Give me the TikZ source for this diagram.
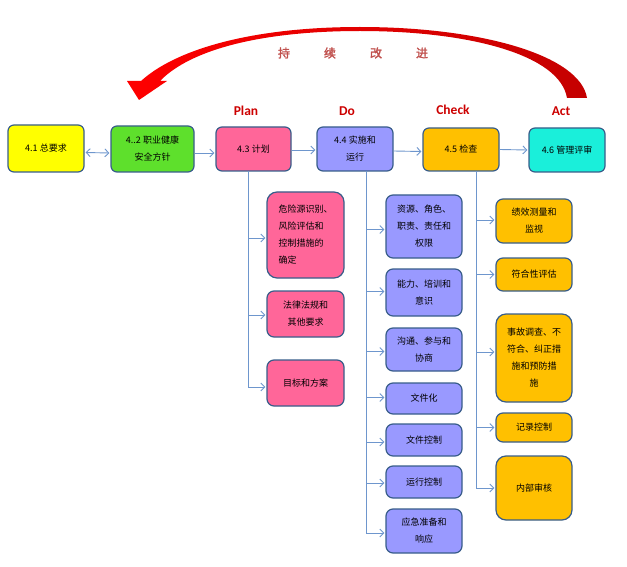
\documentclass[tikz,border=0pt]{standalone}
\usepackage{fontspec}
\setmainfont{Noto Sans CJK SC}
\newfontfamily\labfont{Carlito}
\newfontfamily\cjkbold[FakeBold=2]{Noto Sans CJK SC}
\usetikzlibrary{arrows.meta}
\definecolor{bordercol}{RGB}{56,93,138}
\definecolor{arrcol}{RGB}{110,150,205}
\definecolor{cyellow}{RGB}{255,255,0}
\definecolor{cgreen}{RGB}{94,224,44}
\definecolor{cpink}{RGB}{255,102,153}
\definecolor{cviolet}{RGB}{153,153,255}
\definecolor{corange}{RGB}{255,192,0}
\definecolor{ccyan}{RGB}{26,239,218}
\definecolor{labred}{RGB}{204,0,0}
\definecolor{kaizen}{RGB}{192,80,77}
\definecolor{darkred}{RGB}{196,0,0}
\tikzset{
  box/.style={draw=bordercol, line width=1.2pt, rounded corners=7pt, inner sep=0pt,
    align=center, font=\fontsize{9}{17}\selectfont},
  topbox/.style={box, rounded corners=6pt},
  bigbox/.style={box, rounded corners=10pt},
  conn/.style={draw=arrcol, line width=0.9pt},
  connarr/.style={conn, -{Straight Barb[length=4pt,width=8pt,line width=0.9pt]}},
  bothArr/.style={conn, {Straight Barb[length=4pt,width=8pt,line width=0.9pt]}-{Straight Barb[length=4pt,width=8pt,line width=0.9pt]}},
  pdca/.style={text=labred, font=\labfont\bfseries\fontsize{13.5}{15}\selectfont},
  kz/.style={text=kaizen, font=\cjkbold\fontsize{12}{14}\selectfont}
}
\begin{document}
\begin{tikzpicture}[x=1pt,y=-1pt]
\useasboundingbox (0,0) rectangle (627,567);

% big red arrow
\shade[left color=red, middle color=red, right color=darkred]
  (587,98) .. controls (580,55) and (480,27) .. (360,27)
  .. controls (250,27) and (175,50) .. (141,81)
  -- (127,81) -- (139,100) -- (167,81) -- (160,81)
  .. controls (190,50) and (260,31) .. (360,31)
  .. controls (470,31) and (560,55) .. (567,98) -- cycle;

\node[kz] (k1) at (284,53) {持};
\node[kz] (k2) at (330,53) {续};
\node[kz] (k3) at (376,53) {改};
\node[kz] (k4) at (422,53) {进};

\node[pdca] (plan) at (246,111) {Plan};
\node[pdca] (do) at (347,111) {Do};
\node[pdca] (check) at (453,110) {Check};
\node[pdca] (act) at (561,111) {Act};

% top row
\node[topbox, fill=cyellow, minimum width=76pt, minimum height=47pt] (n41) at (46,148.5) {4.1 总要求};
\node[topbox, fill=cgreen, minimum width=83pt, minimum height=46pt] (n42) at (152.5,149) {4..2 职业健康\\安全方针};
\node[topbox, fill=cpink, minimum width=75pt, minimum height=44pt] (n43) at (253.5,149) {4.3 计划};
\node[topbox, fill=cviolet, minimum width=76pt, minimum height=44pt] (n44) at (355,149) {4.4 实施和\\运行};
\node[topbox, fill=corange, minimum width=76pt, minimum height=43pt] (n45) at (461,149.5) {4.5 检查};
\node[topbox, fill=ccyan, minimum width=76pt, minimum height=44pt] (n46) at (567,150) {4.6 管理评审};

\draw[bothArr] ([yshift=-4pt,xshift=1pt]n41.east) -- ([yshift=-4pt,xshift=-1pt]n42.west);
\draw[connarr] ([yshift=-4pt]n42.east) -- ([yshift=-4pt,xshift=-1pt]n43.west);
\draw[connarr] ([yshift=-1pt]n43.east) -- ([yshift=-1pt,xshift=-1pt]n44.west);
\draw[connarr] ([yshift=-2pt]n44.east) -- ([yshift=-2pt,xshift=-1pt]n45.west);
\draw[connarr] ([yshift=0pt]n45.east) -- ([yshift=0pt,xshift=-1pt]n46.west);

% plan column
\node[bigbox, fill=cpink, minimum width=77pt, minimum height=86pt, align=left] (a1) at (305.5,235) {危险源识别、\\风险评估和\\控制措施的\\确定};
\node[box, fill=cpink, minimum width=77pt, minimum height=46pt] (a2) at (305.5,314) {法律法规和\\其他要求};
\node[box, fill=cpink, minimum width=77pt, minimum height=46pt] (a3) at (305.5,383) {目标和方案};

% do column
\node[box, fill=cviolet, minimum width=76pt, minimum height=63pt] (b1) at (424,226.5) {资源、角色、\\职责、责任和\\权限};
\node[box, fill=cviolet, minimum width=76pt, minimum height=47pt] (b2) at (424,292.5) {能力、培训和\\意识};
\node[box, fill=cviolet, minimum width=76pt, minimum height=43pt] (b3) at (424,349.5) {沟通、参与和\\协商};
\node[box, fill=cviolet, minimum width=76pt, minimum height=31pt] (b4) at (424,398.5) {文件化};
\node[box, fill=cviolet, minimum width=76pt, minimum height=32pt] (b5) at (424,440) {文件控制};
\node[box, fill=cviolet, minimum width=76pt, minimum height=32pt] (b6) at (424,482) {运行控制};
\node[box, fill=cviolet, minimum width=76pt, minimum height=44pt] (b7) at (424,531) {应急准备和\\响应};

% check column
\node[box, fill=corange, minimum width=76pt, minimum height=44pt] (c1) at (534,221) {绩效测量和\\监视};
\node[box, fill=corange, minimum width=76pt, minimum height=33pt] (c2) at (534,274.5) {符合性评估};
\node[bigbox, fill=corange, minimum width=76pt, minimum height=88pt] (c3) at (534,358) {事故调查、不\\符合、纠正措\\施和预防措\\施};
\node[box, fill=corange, minimum width=76pt, minimum height=29pt] (c4) at (534,427.5) {记录控制};
\node[bigbox, fill=corange, minimum width=76pt, minimum height=64pt] (c5) at (534,488) {内部审核};

% trunks
\coordinate (t3) at (248,171);
\coordinate (t4) at (366,171);
\coordinate (t5) at (476,171);
\coordinate (t3e) at (248,387);
\coordinate (t4e) at (366,533);
\coordinate (t5e) at (476,488);
\draw[conn] (t3) -- (t3e);
\draw[conn] (t4) -- (t4e);
\draw[conn] (t5) -- (t5e);

\foreach \b/\s in {a1/-3, a2/-1, a3/-4}{
  \coordinate (p) at ([yshift=\s pt, xshift=-1pt]\b.west);
  \draw[connarr] (t3 |- p) -- (p);}
\foreach \b/\s in {b1/-3, b2/1, b3/-2, b4/1, b5/-2, b6/-1, b7/-2}{
  \coordinate (p) at ([yshift=\s pt, xshift=-1pt]\b.west);
  \draw[connarr] (t4 |- p) -- (p);}
\foreach \b/\s in {c1/1, c2/0, c3/6, c4/0, c5/0}{
  \coordinate (p) at ([yshift=\s pt, xshift=-1pt]\b.west);
  \draw[connarr] (t5 |- p) -- (p);}
\end{tikzpicture}
\end{document}
